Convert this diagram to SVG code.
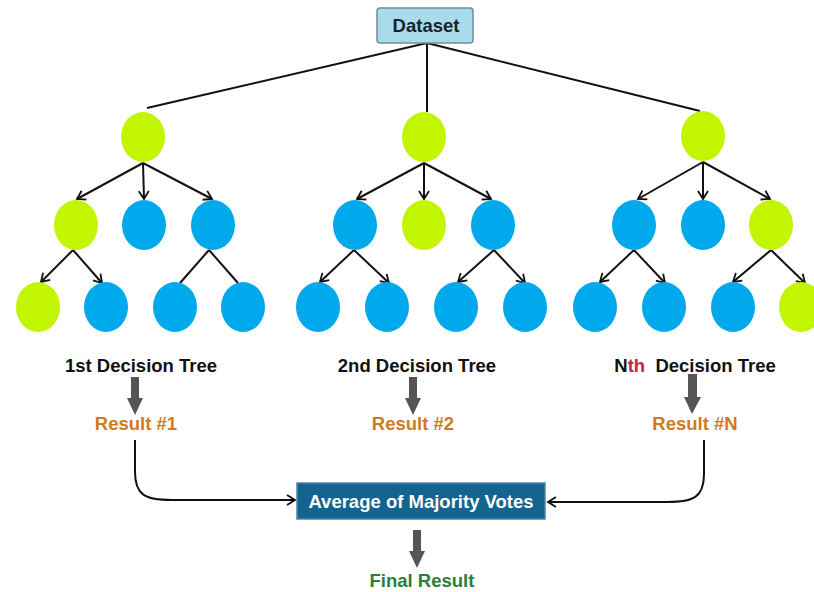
<svg xmlns="http://www.w3.org/2000/svg" width="814" height="592" viewBox="0 0 814 592">
<style>
text{font-family:"Liberation Sans",Arial,sans-serif;font-weight:bold;font-size:18.5px;text-anchor:middle}
.g{fill:#c2f500}
.b{fill:#00a9ec}
.ln{stroke:#111;stroke-width:2;fill:none}
.la{stroke:#111;stroke-width:2;fill:none;marker-end:url(#ah)}
.big{fill:#555}
.res{fill:#d07a22}
</style>
<defs>
<marker id="ah" markerWidth="12" markerHeight="12" refX="9" refY="6" orient="auto" markerUnits="userSpaceOnUse">
<path d="M1,1 L9,6 L1,11" fill="none" stroke="#111" stroke-width="1.8"/>
</marker>
</defs>
<rect width="814" height="592" fill="#fff"/>

<g id="connectors">
<path class="ln" d="M427,43 L147,108"/>
<path class="ln" d="M427,43 L427,112"/>
<path class="ln" d="M427,43 L700,111"/>
<!-- tree 1 -->
<path class="la" d="M143,163 L77,199"/>
<path class="la" d="M143,163 L144,199"/>
<path class="la" d="M143,163 L212,199"/>
<path class="la" d="M73,250 L41,282"/>
<path class="la" d="M73,250 L102,283"/>
<path class="ln" d="M209,250 L180,283"/>
<path class="ln" d="M209,250 L238,283"/>
<!-- tree 2 -->
<path class="la" d="M424,163 L357,199"/>
<path class="la" d="M424,163 L424,199"/>
<path class="la" d="M424,163 L491,199"/>
<path class="la" d="M354,250 L320,282"/>
<path class="la" d="M354,250 L389,283"/>
<path class="la" d="M494,250 L458,282"/>
<path class="la" d="M494,250 L525,283"/>
<!-- tree 3 -->
<path class="la" d="M703,162 L638,199"/>
<path class="la" d="M703,162 L703,199"/>
<path class="la" d="M703,162 L770,199"/>
<path class="la" d="M634,250 L600,282"/>
<path class="la" d="M634,250 L665,283"/>
<path class="la" d="M771,250 L733,282"/>
<path class="la" d="M771,250 L805,283"/>
<!-- curves -->
<path class="la" d="M135,440 L135,472 C135,495 145,500 172,500 L295,500"/>
<path class="la" d="M704,440 L704,474 C704,497 694,502 667,502 L548,502"/>
<!-- gray arrows -->
<path class="big" d="M131,377 L139,377 L139,398 L143,398 L135,415 L127,398 L131,398 Z"/>
<path class="big" d="M409,377 L417,377 L417,398 L421,398 L413,415 L405,398 L409,398 Z"/>
<path class="big" d="M688,374 L697,374 L697,397 L701,397 L692,414 L684,397 L688,397 Z"/>
<path class="big" d="M413,530 L421,530 L421,551 L425,551 L417,568 L409,551 L413,551 Z"/>
</g>

<g id="dataset">
<rect x="377" y="8" width="96" height="35" rx="3" fill="#a8dcea" stroke="#6f8f99" stroke-width="1.5"/>
<text x="426" y="32" fill="#1a1f2a">Dataset</text>
</g>

<g id="tree1">
<ellipse class="g" cx="143" cy="137" rx="22" ry="25"/>
<ellipse class="g" cx="76" cy="225" rx="22" ry="25"/>
<ellipse class="b" cx="144" cy="225" rx="22" ry="25"/>
<ellipse class="b" cx="213" cy="225" rx="22" ry="25"/>
<ellipse class="g" cx="38" cy="307" rx="22" ry="25"/>
<ellipse class="b" cx="106" cy="307" rx="22" ry="25"/>
<ellipse class="b" cx="175" cy="307" rx="22" ry="25"/>
<ellipse class="b" cx="243" cy="307" rx="22" ry="25"/>
</g>

<g id="tree2">
<ellipse class="g" cx="424" cy="137" rx="22" ry="25"/>
<ellipse class="b" cx="355" cy="225" rx="22" ry="25"/>
<ellipse class="g" cx="424" cy="225" rx="22" ry="25"/>
<ellipse class="b" cx="493" cy="225" rx="22" ry="25"/>
<ellipse class="b" cx="318" cy="307" rx="22" ry="25"/>
<ellipse class="b" cx="387" cy="307" rx="22" ry="25"/>
<ellipse class="b" cx="456" cy="307" rx="22" ry="25"/>
<ellipse class="b" cx="525" cy="307" rx="22" ry="25"/>
</g>

<g id="tree3">
<ellipse class="g" cx="703" cy="136" rx="22" ry="25"/>
<ellipse class="b" cx="634" cy="225" rx="22" ry="25"/>
<ellipse class="b" cx="703" cy="225" rx="22" ry="25"/>
<ellipse class="g" cx="771" cy="225" rx="22" ry="25"/>
<ellipse class="b" cx="595" cy="307" rx="22" ry="25"/>
<ellipse class="b" cx="664" cy="307" rx="22" ry="25"/>
<ellipse class="b" cx="733" cy="307" rx="22" ry="25"/>
<ellipse class="g" cx="801" cy="307" rx="22" ry="25"/>
</g>

<g id="labels">
<text x="141" y="372" fill="#111">1st Decision Tree</text>
<text x="417" y="372" fill="#111">2nd Decision Tree</text>
<text x="695" y="372" fill="#111" xml:space="preserve">N<tspan fill="#c0283c">th</tspan>  Decision Tree</text>
</g>

<g id="result1"><text class="res" x="136" y="430">Result #1</text></g>
<g id="result2"><text class="res" x="413" y="430">Result #2</text></g>
<g id="resultN"><text class="res" x="695" y="430">Result #N</text></g>

<g id="average">
<rect x="297" y="483" width="248" height="36" fill="#13648e" stroke="#4d86a6" stroke-width="1.5"/>
<text x="421" y="508" fill="#fff">Average of Majority Votes</text>
</g>

<g id="final"><text x="422" y="587" fill="#2f7d3b">Final Result</text></g>
</svg>
